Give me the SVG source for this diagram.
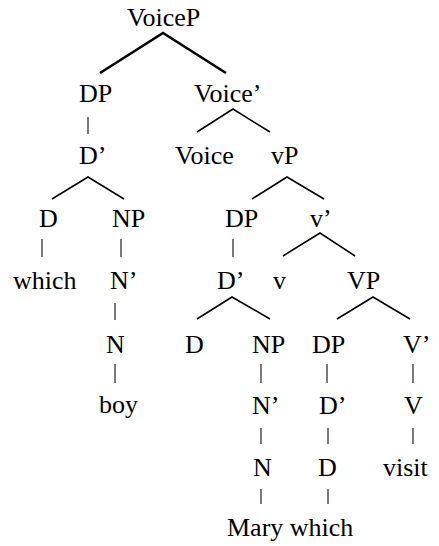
<svg xmlns="http://www.w3.org/2000/svg" width="439" height="546" viewBox="0 0 439 546">
  <style>
    .br { stroke: #000; stroke-width: 1.5; fill: none; }
    .thick { stroke: #000; stroke-width: 2.6; fill: none; }
    .bar { stroke: #333; stroke-width: 1.3; }
  </style>
  <rect width="439" height="546" fill="#fff"/>

  <g id="connectors">
    <!-- root branches -->
    <polyline class="thick" points="100,73 163,33 226,73"/>
    <!-- binary branches -->
    <polyline class="br" points="197,132 233,109 270,132"/>
    <polyline class="br" points="52,199 88,177 124,199"/>
    <polyline class="br" points="252,199 287,177 324,199"/>
    <polyline class="br" points="283,256 320,233 355,256"/>
    <polyline class="br" points="197,319 232,297 270,319"/>
    <polyline class="br" points="337,319 373,297 410,319"/>
    <!-- unary bars -->
    <line class="bar" x1="88" y1="117" x2="88" y2="134"/>
    <line class="bar" x1="42" y1="239" x2="42" y2="257"/>
    <line class="bar" x1="121" y1="239" x2="121" y2="257"/>
    <line class="bar" x1="115" y1="303" x2="115" y2="320"/>
    <line class="bar" x1="115" y1="364" x2="115" y2="383"/>
    <line class="bar" x1="233" y1="239" x2="233" y2="257"/>
    <line class="bar" x1="261" y1="364" x2="261" y2="383"/>
    <line class="bar" x1="327" y1="364" x2="327" y2="383"/>
    <line class="bar" x1="413" y1="364" x2="413" y2="383"/>
    <line class="bar" x1="261" y1="428" x2="261" y2="444"/>
    <line class="bar" x1="328" y1="428" x2="328" y2="444"/>
    <line class="bar" x1="413" y1="428" x2="413" y2="444"/>
    <line class="bar" x1="261" y1="489" x2="261" y2="504"/>
    <line class="bar" x1="328" y1="489" x2="328" y2="504"/>
  </g>

  <g id="n-voicep"><text x="127" y="26" style="font-family:'Liberation Serif',serif;font-size:26px">VoiceP</text></g>
  <g id="n-dp1"><text x="79" y="102" style="font-family:'Liberation Serif',serif;font-size:26px">DP</text></g>
  <g id="n-voicebar"><text x="194" y="102" style="font-family:'Liberation Serif',serif;font-size:26px">Voice’</text></g>
  <g id="n-dbar1"><text x="79" y="164" style="font-family:'Liberation Serif',serif;font-size:26px">D’</text></g>
  <g id="n-voice"><text x="175" y="164" style="font-family:'Liberation Serif',serif;font-size:26px">Voice</text></g>
  <g id="n-vp-small"><text x="271" y="164" style="font-family:'Liberation Serif',serif;font-size:26px">vP</text></g>
  <g id="n-d1"><text x="39" y="227" style="font-family:'Liberation Serif',serif;font-size:26px">D</text></g>
  <g id="n-np1"><text x="112" y="227" style="font-family:'Liberation Serif',serif;font-size:26px">NP</text></g>
  <g id="n-dp2"><text x="225" y="227" style="font-family:'Liberation Serif',serif;font-size:26px">DP</text></g>
  <g id="n-vbar-small"><text x="310" y="227" style="font-family:'Liberation Serif',serif;font-size:26px">v’</text></g>
  <g id="n-which1"><text x="13" y="289" style="font-family:'Liberation Serif',serif;font-size:26px">which</text></g>
  <g id="n-nbar1"><text x="110" y="289" style="font-family:'Liberation Serif',serif;font-size:26px">N’</text></g>
  <g id="n-dbar2"><text x="217" y="289" style="font-family:'Liberation Serif',serif;font-size:26px">D’</text></g>
  <g id="n-v-small"><text x="273" y="289" style="font-family:'Liberation Serif',serif;font-size:26px">v</text></g>
  <g id="n-vp"><text x="347" y="289" style="font-family:'Liberation Serif',serif;font-size:26px">VP</text></g>
  <g id="n-n1"><text x="106" y="353" style="font-family:'Liberation Serif',serif;font-size:26px">N</text></g>
  <g id="n-d2"><text x="185" y="353" style="font-family:'Liberation Serif',serif;font-size:26px">D</text></g>
  <g id="n-np2"><text x="252" y="353" style="font-family:'Liberation Serif',serif;font-size:26px">NP</text></g>
  <g id="n-dp3"><text x="312" y="353" style="font-family:'Liberation Serif',serif;font-size:26px">DP</text></g>
  <g id="n-vbar"><text x="403" y="353" style="font-family:'Liberation Serif',serif;font-size:26px">V’</text></g>
  <g id="n-boy"><text x="99" y="413" style="font-family:'Liberation Serif',serif;font-size:26px">boy</text></g>
  <g id="n-nbar2"><text x="252" y="414" style="font-family:'Liberation Serif',serif;font-size:26px">N’</text></g>
  <g id="n-dbar3"><text x="319" y="414" style="font-family:'Liberation Serif',serif;font-size:26px">D’</text></g>
  <g id="n-v"><text x="404" y="414" style="font-family:'Liberation Serif',serif;font-size:26px">V</text></g>
  <g id="n-n2"><text x="253" y="476" style="font-family:'Liberation Serif',serif;font-size:26px">N</text></g>
  <g id="n-d3"><text x="318" y="476" style="font-family:'Liberation Serif',serif;font-size:26px">D</text></g>
  <g id="n-visit"><text x="383" y="476" style="font-family:'Liberation Serif',serif;font-size:26px">visit</text></g>
  <g id="n-mary-which"><text x="227" y="536" style="font-family:'Liberation Serif',serif;font-size:26px">Mary which</text></g>
</svg>
